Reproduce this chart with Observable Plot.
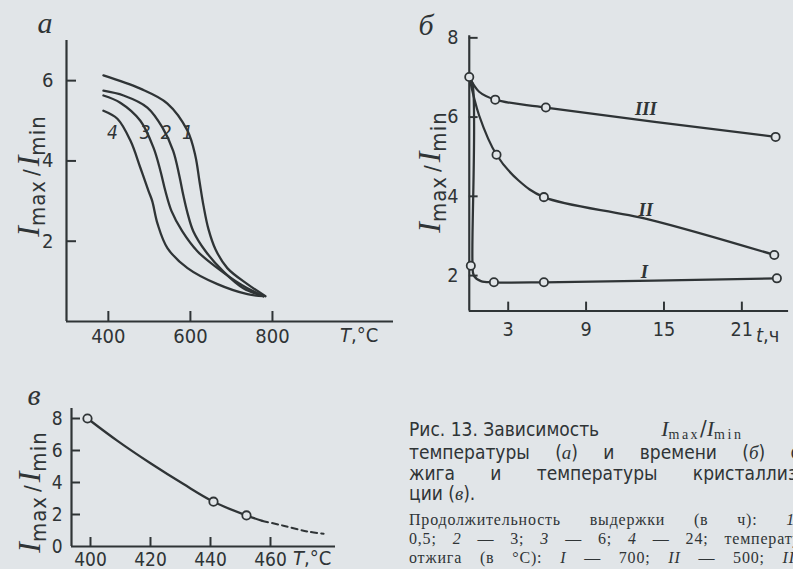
<!DOCTYPE html>
<html><head><meta charset="utf-8">
<script src="https://cdn.jsdelivr.net/npm/d3@7"></script>
<script src="https://cdn.jsdelivr.net/npm/@observablehq/plot@0.6"></script>
<style>
html,body{margin:0;padding:0;background:#e1e5e8;}
#page{position:relative;width:793px;height:569px;overflow:hidden;background:#e1e5e8;color:#2f3436;}
.chart{position:absolute;}
.chart svg{overflow:visible;}
.cap{position:absolute;left:409px;white-space:nowrap;font-family:"Liberation Sans Narrow","DejaVu Sans Condensed",sans-serif;font-stretch:condensed;font-size:19px;line-height:20px;color:#2f3436;}
.just{white-space:normal;text-align:justify;text-align-last:justify;}
.small{font-family:"Liberation Serif",serif;font-size:16px;line-height:17px;letter-spacing:0.8px;font-stretch:normal;}
.cap .f{display:inline-block;margin-left:62px;line-height:16px;font-size:22px;}
.cap .f sub{font-size:14px;letter-spacing:2.5px;vertical-align:-3px;line-height:0;font-family:"Liberation Serif",serif;}
.cap i{font-family:"Liberation Serif",serif;}
#overlay{position:absolute;left:0;top:0;}
#overlay text{fill:#2f3436;}
.pl{font-family:"Liberation Serif",serif;font-style:italic;font-size:30px;}
.yt{font-family:"Liberation Serif",serif;font-style:italic;font-size:32px;}
.ys{font-family:"Liberation Sans Narrow","DejaVu Sans Condensed",sans-serif;font-style:normal;font-size:22px;letter-spacing:1px;}
.xt{font-family:"Liberation Sans Narrow","DejaVu Sans Condensed",sans-serif;font-size:20px;}
</style></head>
<body><div id="page">
<div class="chart" id="ca" style="left:0;top:0"></div>
<div class="chart" id="cb" style="left:400px;top:0"></div>
<div class="chart" id="cc" style="left:0;top:380px"></div>
<svg id="overlay" width="793" height="569">
  <text class="pl" x="45" y="33" text-anchor="middle">а</text>
  <text class="pl" x="426" y="35" text-anchor="middle">б</text>
  <text class="pl" x="34" y="405" text-anchor="middle">в</text>
  <text transform="translate(39,176) rotate(-90)" text-anchor="middle"><tspan class="yt">I</tspan><tspan class="ys" dy="6">max</tspan><tspan class="ys" dy="-6" dx="4">/</tspan><tspan class="yt" dx="2">I</tspan><tspan class="ys" dy="6">min</tspan></text>
  <text transform="translate(440,172) rotate(-90)" text-anchor="middle"><tspan class="yt">I</tspan><tspan class="ys" dy="6">max</tspan><tspan class="ys" dy="-6" dx="4">/</tspan><tspan class="yt" dx="2">I</tspan><tspan class="ys" dy="6">min</tspan></text>
  <text transform="translate(40,492) rotate(-90)" text-anchor="middle"><tspan class="yt">I</tspan><tspan class="ys" dy="6">max</tspan><tspan class="ys" dy="-6" dx="4">/</tspan><tspan class="yt" dx="2">I</tspan><tspan class="ys" dy="6">min</tspan></text>
  <text class="xt" x="340" y="342"><tspan font-style="italic">T</tspan>,°C</text>
  <text class="xt" x="756" y="342"><tspan font-style="italic">t</tspan>,ч</text>
  <text class="xt" x="293" y="565"><tspan font-style="italic">T</tspan>,°C</text>
</svg>
<div class="cap" style="top:419px">Рис. 13. Зависимость<span class="f"><i>I</i><sub>max</sub>/<i>I</i><sub>min</sub></span></div>
<div class="cap just" style="top:442px;width:392px">температуры (<i>а</i>) и времени (<i>б</i>) о</div>
<div class="cap just" style="top:463px;width:388px">жига и температуры кристаллиз</div>
<div class="cap" style="top:483px">ции (<i>в</i>).</div>
<div class="cap small just" style="top:511px;width:386px">Продолжительность выдержки (в ч): <i>1</i></div>
<div class="cap small just" style="top:530px;width:392px">0,5; <i>2</i> — 3; <i>3</i> — 6; <i>4</i> — 24; температу</div>
<div class="cap small just" style="top:549px;width:392px">отжига (в °С): <i>I</i> — 700; <i>II</i> — 500; <i>III</i></div>
</div>
<script>
const ink = "#2f3436";
const paper = "#e1e5e8";
const tickFont = '"Liberation Sans Narrow","DejaVu Sans Condensed",sans-serif';

// ---- Panel а: Imax/Imin vs T (curves 1-4) ----
const aXDomain = [298, 1095];
const aYDomain = [0, 7];
const aXTicks = [400, 600, 800];
const aYTicks = [2, 4, 6];
const a1T = [388, 478, 544, 593, 612, 622, 632, 644, 661, 690, 739, 783];
const a1V = [6.13, 5.8, 5.43, 4.75, 4.13, 3.5, 2.88, 2.3, 1.8, 1.33, 0.93, 0.63];
const a2T = [388, 437, 495, 532, 558, 573, 583, 593, 607, 637, 680, 729, 778];
const a2V = [5.75, 5.63, 5.33, 4.83, 4.25, 3.63, 3.13, 2.7, 2.25, 1.75, 1.25, 0.83, 0.63];
const a3T = [388, 429, 478, 510, 527, 539, 554, 580, 617, 666, 722, 778];
const a3V = [5.63, 5.45, 5.0, 4.33, 3.75, 3.25, 2.75, 2.25, 1.75, 1.33, 0.93, 0.63];
const a4T = [388, 422, 454, 478, 498, 507, 520, 544, 593, 666, 739, 778];
const a4V = [5.25, 5.05, 4.5, 3.83, 3.25, 3.0, 2.43, 1.83, 1.33, 0.93, 0.68, 0.63];
const aLabelText = ["1", "2", "3", "4"];
const aLabelT = [593, 541, 490, 410];
const aLabelV = [4.7, 4.7, 4.7, 4.7];

// ---- Panel б: Imax/Imin vs t (annealing I, II, III) ----
const bXDomain = [0, 24.6];
const bYDomain = [1.107, 8.05];
const bXTicks = [3, 9, 15, 21];
const bYTicks = [2, 4, 6, 8];
const b3T = [0, 0.76, 2.0, 5.9, 23.6];
const b3V = [7.01, 6.64, 6.44, 6.24, 5.5];
const b2T = [0, 0.76, 2.1, 3.8, 5.75, 13.8, 23.5];
const b2V = [7.01, 6.04, 5.05, 4.4, 3.98, 3.42, 2.52];
const b1T = [0, 0.25, 0.25, 0.35, 0.9, 1.9, 5.75, 23.7];
const b1V = [7.01, 6.85, 2.3, 2.0, 1.86, 1.83, 1.83, 1.93];
const bDotT = [0, 2.0, 5.9, 23.6, 2.1, 5.75, 23.5, 0.12, 1.9, 5.75, 23.7];
const bDotV = [7.01, 6.44, 6.24, 5.5, 5.05, 3.98, 2.52, 2.25, 1.83, 1.83, 1.93];
const bLabelText = ["III", "II", "I"];
const bLabelT = [13.6, 13.6, 13.5];
const bLabelV = [6.21, 3.66, 2.1];

// ---- Panel в: Imax/Imin vs crystallisation T ----
const cXDomain = [393.67, 481.67];
const cYDomain = [0, 8.625];
const cXTicks = [400, 420, 440, 460];
const cYTicks = [0, 2, 4, 6, 8];
const cSolidT = [399, 409, 420, 431, 441, 452, 457.3];
const cSolidV = [8.0, 6.6, 5.2, 3.9, 2.8, 1.94, 1.6];
const cDashT = [457.3, 464.3, 472.3, 477.7];
const cDashV = [1.6, 1.3, 0.94, 0.8];
const cDotT = [399, 441, 452];
const cDotV = [8.0, 2.8, 1.94];

const pts = (T, V) => T.map((t, i) => ({x: t, y: V[i]}));

function panel(o) {
  const [x0, x1] = o.xDomain, [y0, y1] = o.yDomain;
  const pw = o.width - o.ml - o.mr, ph = o.height - o.mt - o.mb;
  const tx = o.tick * (x1 - x0) / pw, ty = o.tick * (y1 - y0) / ph;
  return Plot.plot({
    width: o.width, height: o.height,
    marginLeft: o.ml, marginRight: o.mr, marginTop: o.mt, marginBottom: o.mb,
    style: {background: "transparent", color: ink, fontFamily: tickFont, fontSize: o.fs || "20px", overflow: "visible"},
    x: {domain: o.xDomain, ticks: o.xTicks, tickSize: 0, tickPadding: o.xPad, label: null, tickFormat: d => String(d)},
    y: {domain: o.yDomain, ticks: o.yTicks, tickSize: 0, tickPadding: o.yPad, label: null, tickFormat: d => String(d)},
    marks: [
      Plot.ruleX(o.xTicks, {x: d => d, y1: y0, y2: y0 + ty, stroke: ink, strokeWidth: 2}),
      Plot.ruleY(o.yTicks.filter(d => d > y0), {y: d => d, x1: x0, x2: x0 + tx, stroke: ink, strokeWidth: 2}),
      Plot.ruleY([y0], {stroke: ink, strokeWidth: 2.2}),
      Plot.ruleX([x0], {stroke: ink, strokeWidth: 2.2}),
      ...o.marks
    ]
  });
}

const lineOpts = {x: "x", y: "y", stroke: ink, strokeWidth: 2.3, curve: "catmull-rom"};

document.getElementById("ca").append(panel({
  width: 400, height: 350, ml: 66, mr: 7, mt: 40, mb: 29, tick: 10,
  xDomain: aXDomain, yDomain: aYDomain, xTicks: aXTicks, yTicks: aYTicks, xPad: 7, yPad: 13,
  marks: [
    Plot.line(pts(a1T, a1V), lineOpts),
    Plot.line(pts(a2T, a2V), lineOpts),
    Plot.line(pts(a3T, a3V), lineOpts),
    Plot.line(pts(a4T, a4V), lineOpts),
    Plot.text(aLabelText.map((s, i) => ({s, x: aLabelT[i], y: aLabelV[i]})),
      {x: "x", y: "y", text: "s", fill: ink, fontSize: 19, fontStyle: "italic"})
  ]
}));

document.getElementById("cb").append(panel({
  width: 400, height: 350, ml: 70, mr: 5, mt: 36, mb: 34, tick: 9,
  xDomain: bXDomain, yDomain: bYDomain, xTicks: bXTicks, yTicks: bYTicks, xPad: 11, yPad: 11,
  marks: [
    Plot.line(pts(b3T, b3V), lineOpts),
    Plot.line(pts(b2T, b2V), lineOpts),
    Plot.line(pts(b1T, b1V), lineOpts),
    Plot.dot(pts(bDotT, bDotV), {x: "x", y: "y", r: 4.2, fill: paper, stroke: ink, strokeWidth: 1.8}),
    Plot.text(bLabelText.map((s, i) => ({s, x: bLabelT[i], y: bLabelV[i]})),
      {x: "x", y: "y", text: "s", fill: ink, fontSize: 19, fontStyle: "italic", fontFamily: "Liberation Serif, serif", fontWeight: "bold"})
  ]
}));

document.getElementById("cc").append(panel({
  width: 340, height: 189, ml: 71, mr: 5, mt: 28, mb: 23, tick: 9, fs: "19px",
  xDomain: cXDomain, yDomain: cYDomain, xTicks: cXTicks, yTicks: cYTicks, xPad: 6, yPad: 9,
  marks: [
    Plot.line(pts(cSolidT, cSolidV), lineOpts),
    Plot.line(pts(cDashT, cDashV), {...lineOpts, strokeDasharray: "6,4", strokeWidth: 2}),
    Plot.dot(pts(cDotT, cDotV), {x: "x", y: "y", r: 4.2, fill: paper, stroke: ink, strokeWidth: 1.8})
  ]
}));
</script>
</body></html>
